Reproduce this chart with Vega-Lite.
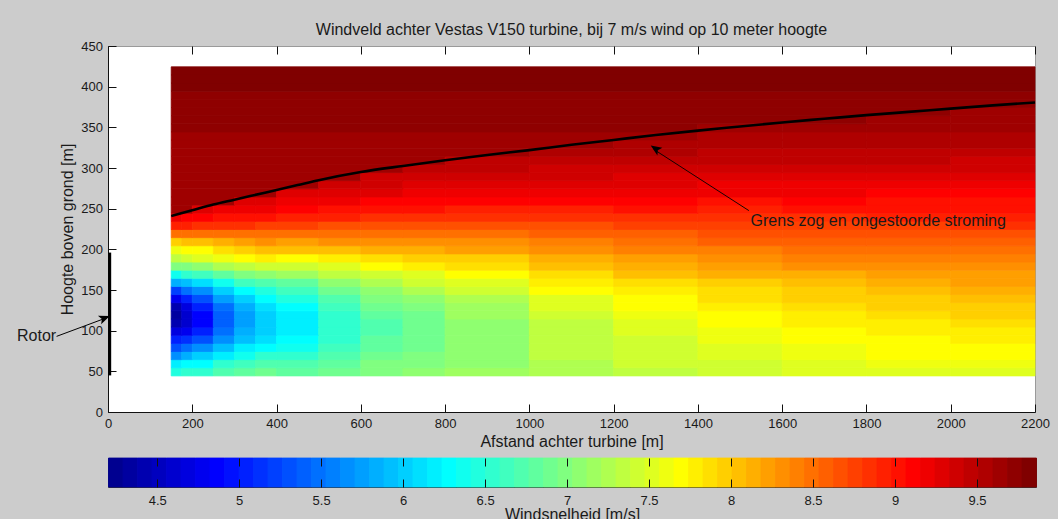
{
"$schema":"https://vega.github.io/schema/vega-lite/v6.json",
"background":"#cccccc",
"padding":{"left":16,"top":21,"right":10,"bottom":3},
"spacing":7,
"config":{"font":"Liberation Sans","view":{"stroke":null},
"axis":{"labelFont":"Liberation Sans","labelFontSize":13,"labelColor":"#1a1a1a","titleFont":"Liberation Sans","titleFontSize":16,"titleFontWeight":"normal","titleColor":"#1a1a1a","tickColor":"#111111","domainColor":"#111111","grid":false,"tickSize":8,"labelFlush":false,"labelOverlap":false,"zindex":1}},
"resolve":{"scale":{"color":"shared","stroke":"shared"}},
"vconcat":[
{"width":927,"height":366,
"title":{"text":"Windveld achter Vestas V150 turbine, bij 7 m/s wind op 10 meter hoogte","fontSize":16,"font":"Liberation Sans","fontWeight":"normal","color":"#1a1a1a","offset":2.5,"frame":"group","anchor":"middle"},
"view":{"fill":"white","stroke":"#9a9a9a"},
"resolve":{"axis":{"x":"independent","y":"independent"}},
"layer":[
{"data":{"values":[
{"x":150,"x2":175,"y":50,"v":6.45},{"x":175,"x2":200,"y":50,"v":6.5},{"x":200,"x2":250,"y":50,"v":6.55},{"x":250,"x2":300,"y":50,"v":6.76},{"x":300,"x2":350,"y":50,"v":6.84},{"x":350,"x2":400,"y":50,"v":6.86},{"x":400,"x2":500,"y":50,"v":6.81},{"x":500,"x2":600,"y":50,"v":6.92},{"x":600,"x2":700,"y":50,"v":7.0},{"x":700,"x2":800,"y":50,"v":7.05},{"x":800,"x2":1000,"y":50,"v":7.12},{"x":1000,"x2":1200,"y":50,"v":7.27},{"x":1200,"x2":1400,"y":50,"v":7.37},{"x":1400,"x2":1600,"y":50,"v":7.43},{"x":1600,"x2":1800,"y":50,"v":7.48},{"x":1800,"x2":2000,"y":50,"v":7.53},{"x":2000,"x2":2200,"y":50,"v":7.55},
{"x":150,"x2":175,"y":60,"v":6.2},{"x":175,"x2":200,"y":60,"v":6.25},{"x":200,"x2":250,"y":60,"v":6.3},{"x":250,"x2":300,"y":60,"v":6.5},{"x":300,"x2":350,"y":60,"v":6.63},{"x":350,"x2":400,"y":60,"v":6.68},{"x":400,"x2":500,"y":60,"v":6.68},{"x":500,"x2":600,"y":60,"v":6.83},{"x":600,"x2":700,"y":60,"v":6.95},{"x":700,"x2":800,"y":60,"v":7.02},{"x":800,"x2":1000,"y":60,"v":7.11},{"x":1000,"x2":1200,"y":60,"v":7.29},{"x":1200,"x2":1400,"y":60,"v":7.4},{"x":1400,"x2":1600,"y":60,"v":7.47},{"x":1600,"x2":1800,"y":60,"v":7.54},{"x":1800,"x2":2000,"y":60,"v":7.59},{"x":2000,"x2":2200,"y":60,"v":7.62},
{"x":150,"x2":175,"y":70,"v":5.68},{"x":175,"x2":200,"y":70,"v":5.8},{"x":200,"x2":250,"y":70,"v":6.01},{"x":250,"x2":300,"y":70,"v":6.22},{"x":300,"x2":350,"y":70,"v":6.4},{"x":350,"x2":400,"y":70,"v":6.5},{"x":400,"x2":500,"y":70,"v":6.54},{"x":500,"x2":600,"y":70,"v":6.74},{"x":600,"x2":700,"y":70,"v":6.89},{"x":700,"x2":800,"y":70,"v":6.98},{"x":800,"x2":1000,"y":70,"v":7.1},{"x":1000,"x2":1200,"y":70,"v":7.31},{"x":1200,"x2":1400,"y":70,"v":7.44},{"x":1400,"x2":1600,"y":70,"v":7.52},{"x":1600,"x2":1800,"y":70,"v":7.59},{"x":1800,"x2":2000,"y":70,"v":7.65},{"x":2000,"x2":2200,"y":70,"v":7.68},
{"x":150,"x2":175,"y":80,"v":5.3},{"x":175,"x2":200,"y":80,"v":5.49},{"x":200,"x2":250,"y":80,"v":5.64},{"x":250,"x2":300,"y":80,"v":5.93},{"x":300,"x2":350,"y":80,"v":6.16},{"x":350,"x2":400,"y":80,"v":6.3},{"x":400,"x2":500,"y":80,"v":6.39},{"x":500,"x2":600,"y":80,"v":6.64},{"x":600,"x2":700,"y":80,"v":6.82},{"x":700,"x2":800,"y":80,"v":6.93},{"x":800,"x2":1000,"y":80,"v":7.08},{"x":1000,"x2":1200,"y":80,"v":7.31},{"x":1200,"x2":1400,"y":80,"v":7.45},{"x":1400,"x2":1600,"y":80,"v":7.54},{"x":1600,"x2":1800,"y":80,"v":7.62},{"x":1800,"x2":2000,"y":80,"v":7.68},{"x":2000,"x2":2200,"y":80,"v":7.72},
{"x":150,"x2":175,"y":90,"v":5.02},{"x":175,"x2":200,"y":90,"v":5.1},{"x":200,"x2":250,"y":90,"v":5.31},{"x":250,"x2":300,"y":90,"v":5.68},{"x":300,"x2":350,"y":90,"v":5.95},{"x":350,"x2":400,"y":90,"v":6.14},{"x":400,"x2":500,"y":90,"v":6.27},{"x":500,"x2":600,"y":90,"v":6.57},{"x":600,"x2":700,"y":90,"v":6.77},{"x":700,"x2":800,"y":90,"v":6.9},{"x":800,"x2":1000,"y":90,"v":7.07},{"x":1000,"x2":1200,"y":90,"v":7.32},{"x":1200,"x2":1400,"y":90,"v":7.47},{"x":1400,"x2":1600,"y":90,"v":7.57},{"x":1600,"x2":1800,"y":90,"v":7.66},{"x":1800,"x2":2000,"y":90,"v":7.73},{"x":2000,"x2":2200,"y":90,"v":7.77},
{"x":150,"x2":175,"y":100,"v":4.68},{"x":175,"x2":200,"y":100,"v":4.8},{"x":200,"x2":250,"y":100,"v":5.05},{"x":250,"x2":300,"y":100,"v":5.49},{"x":300,"x2":350,"y":100,"v":5.81},{"x":350,"x2":400,"y":100,"v":6.02},{"x":400,"x2":500,"y":100,"v":6.2},{"x":500,"x2":600,"y":100,"v":6.52},{"x":600,"x2":700,"y":100,"v":6.75},{"x":700,"x2":800,"y":100,"v":6.89},{"x":800,"x2":1000,"y":100,"v":7.07},{"x":1000,"x2":1200,"y":100,"v":7.34},{"x":1200,"x2":1400,"y":100,"v":7.5},{"x":1400,"x2":1600,"y":100,"v":7.61},{"x":1600,"x2":1800,"y":100,"v":7.7},{"x":1800,"x2":2000,"y":100,"v":7.77},{"x":2000,"x2":2200,"y":100,"v":7.82},
{"x":150,"x2":175,"y":110,"v":4.42},{"x":175,"x2":200,"y":110,"v":4.61},{"x":200,"x2":250,"y":110,"v":4.9},{"x":250,"x2":300,"y":110,"v":5.39},{"x":300,"x2":350,"y":110,"v":5.73},{"x":350,"x2":400,"y":110,"v":5.97},{"x":400,"x2":500,"y":110,"v":6.16},{"x":500,"x2":600,"y":110,"v":6.5},{"x":600,"x2":700,"y":110,"v":6.75},{"x":700,"x2":800,"y":110,"v":6.9},{"x":800,"x2":1000,"y":110,"v":7.09},{"x":1000,"x2":1200,"y":110,"v":7.37},{"x":1200,"x2":1400,"y":110,"v":7.54},{"x":1400,"x2":1600,"y":110,"v":7.65},{"x":1600,"x2":1800,"y":110,"v":7.74},{"x":1800,"x2":2000,"y":110,"v":7.82},{"x":2000,"x2":2200,"y":110,"v":7.87},
{"x":150,"x2":175,"y":120,"v":4.3},{"x":175,"x2":200,"y":120,"v":4.59},{"x":200,"x2":250,"y":120,"v":4.89},{"x":250,"x2":300,"y":120,"v":5.39},{"x":300,"x2":350,"y":120,"v":5.74},{"x":350,"x2":400,"y":120,"v":5.99},{"x":400,"x2":500,"y":120,"v":6.19},{"x":500,"x2":600,"y":120,"v":6.54},{"x":600,"x2":700,"y":120,"v":6.79},{"x":700,"x2":800,"y":120,"v":6.94},{"x":800,"x2":1000,"y":120,"v":7.14},{"x":1000,"x2":1200,"y":120,"v":7.42},{"x":1200,"x2":1400,"y":120,"v":7.59},{"x":1400,"x2":1600,"y":120,"v":7.7},{"x":1600,"x2":1800,"y":120,"v":7.79},{"x":1800,"x2":2000,"y":120,"v":7.87},{"x":2000,"x2":2200,"y":120,"v":7.92},
{"x":150,"x2":175,"y":130,"v":4.42},{"x":175,"x2":200,"y":130,"v":4.72},{"x":200,"x2":250,"y":130,"v":5.01},{"x":250,"x2":300,"y":130,"v":5.5},{"x":300,"x2":350,"y":130,"v":5.84},{"x":350,"x2":400,"y":130,"v":6.08},{"x":400,"x2":500,"y":130,"v":6.27},{"x":500,"x2":600,"y":130,"v":6.61},{"x":600,"x2":700,"y":130,"v":6.86},{"x":700,"x2":800,"y":130,"v":7.01},{"x":800,"x2":1000,"y":130,"v":7.2},{"x":1000,"x2":1200,"y":130,"v":7.48},{"x":1200,"x2":1400,"y":130,"v":7.65},{"x":1400,"x2":1600,"y":130,"v":7.76},{"x":1600,"x2":1800,"y":130,"v":7.85},{"x":1800,"x2":2000,"y":130,"v":7.93},{"x":2000,"x2":2200,"y":130,"v":7.98},
{"x":150,"x2":175,"y":140,"v":4.78},{"x":175,"x2":200,"y":140,"v":5.02},{"x":200,"x2":250,"y":140,"v":5.27},{"x":250,"x2":300,"y":140,"v":5.71},{"x":300,"x2":350,"y":140,"v":6.03},{"x":350,"x2":400,"y":140,"v":6.24},{"x":400,"x2":500,"y":140,"v":6.42},{"x":500,"x2":600,"y":140,"v":6.74},{"x":600,"x2":700,"y":140,"v":6.97},{"x":700,"x2":800,"y":140,"v":7.11},{"x":800,"x2":1000,"y":140,"v":7.29},{"x":1000,"x2":1200,"y":140,"v":7.56},{"x":1200,"x2":1400,"y":140,"v":7.72},{"x":1400,"x2":1600,"y":140,"v":7.83},{"x":1600,"x2":1800,"y":140,"v":7.92},{"x":1800,"x2":2000,"y":140,"v":7.99},{"x":2000,"x2":2200,"y":140,"v":8.04},
{"x":150,"x2":175,"y":150,"v":5.26},{"x":175,"x2":200,"y":150,"v":5.44},{"x":200,"x2":250,"y":150,"v":5.65},{"x":250,"x2":300,"y":150,"v":6.02},{"x":300,"x2":350,"y":150,"v":6.3},{"x":350,"x2":400,"y":150,"v":6.48},{"x":400,"x2":500,"y":150,"v":6.61},{"x":500,"x2":600,"y":150,"v":6.91},{"x":600,"x2":700,"y":150,"v":7.11},{"x":700,"x2":800,"y":150,"v":7.24},{"x":800,"x2":1000,"y":150,"v":7.41},{"x":1000,"x2":1200,"y":150,"v":7.66},{"x":1200,"x2":1400,"y":150,"v":7.81},{"x":1400,"x2":1600,"y":150,"v":7.91},{"x":1600,"x2":1800,"y":150,"v":8.0},{"x":1800,"x2":2000,"y":150,"v":8.07},{"x":2000,"x2":2200,"y":150,"v":8.11},
{"x":150,"x2":175,"y":160,"v":5.8},{"x":175,"x2":200,"y":160,"v":5.95},{"x":200,"x2":250,"y":160,"v":6.1},{"x":250,"x2":300,"y":160,"v":6.39},{"x":300,"x2":350,"y":160,"v":6.62},{"x":350,"x2":400,"y":160,"v":6.76},{"x":400,"x2":500,"y":160,"v":6.85},{"x":500,"x2":600,"y":160,"v":7.1},{"x":600,"x2":700,"y":160,"v":7.28},{"x":700,"x2":800,"y":160,"v":7.39},{"x":800,"x2":1000,"y":160,"v":7.54},{"x":1000,"x2":1200,"y":160,"v":7.77},{"x":1200,"x2":1400,"y":160,"v":7.91},{"x":1400,"x2":1600,"y":160,"v":8.0},{"x":1600,"x2":1800,"y":160,"v":8.08},{"x":1800,"x2":2000,"y":160,"v":8.14},{"x":2000,"x2":2200,"y":160,"v":8.18},
{"x":150,"x2":175,"y":170,"v":6.4},{"x":175,"x2":200,"y":170,"v":6.5},{"x":200,"x2":250,"y":170,"v":6.59},{"x":250,"x2":300,"y":170,"v":6.8},{"x":300,"x2":350,"y":170,"v":6.98},{"x":350,"x2":400,"y":170,"v":7.08},{"x":400,"x2":500,"y":170,"v":7.12},{"x":500,"x2":600,"y":170,"v":7.32},{"x":600,"x2":700,"y":170,"v":7.47},{"x":700,"x2":800,"y":170,"v":7.56},{"x":800,"x2":1000,"y":170,"v":7.68},{"x":1000,"x2":1200,"y":170,"v":7.89},{"x":1200,"x2":1400,"y":170,"v":8.02},{"x":1400,"x2":1600,"y":170,"v":8.1},{"x":1600,"x2":1800,"y":170,"v":8.17},{"x":1800,"x2":2000,"y":170,"v":8.23},{"x":2000,"x2":2200,"y":170,"v":8.26},
{"x":150,"x2":175,"y":180,"v":6.95},{"x":175,"x2":200,"y":180,"v":7.02},{"x":200,"x2":250,"y":180,"v":7.08},{"x":250,"x2":300,"y":180,"v":7.23},{"x":300,"x2":350,"y":180,"v":7.36},{"x":350,"x2":400,"y":180,"v":7.41},{"x":400,"x2":500,"y":180,"v":7.41},{"x":500,"x2":600,"y":180,"v":7.56},{"x":600,"x2":700,"y":180,"v":7.68},{"x":700,"x2":800,"y":180,"v":7.75},{"x":800,"x2":1000,"y":180,"v":7.84},{"x":1000,"x2":1200,"y":180,"v":8.02},{"x":1200,"x2":1400,"y":180,"v":8.13},{"x":1400,"x2":1600,"y":180,"v":8.2},{"x":1600,"x2":1800,"y":180,"v":8.27},{"x":1800,"x2":2000,"y":180,"v":8.32},{"x":2000,"x2":2200,"y":180,"v":8.35},
{"x":150,"x2":175,"y":190,"v":7.38},{"x":175,"x2":200,"y":190,"v":7.42},{"x":200,"x2":250,"y":190,"v":7.48},{"x":250,"x2":300,"y":190,"v":7.59},{"x":300,"x2":350,"y":190,"v":7.7},{"x":350,"x2":400,"y":190,"v":7.74},{"x":400,"x2":500,"y":190,"v":7.72},{"x":500,"x2":600,"y":190,"v":7.8},{"x":600,"x2":700,"y":190,"v":7.88},{"x":700,"x2":800,"y":190,"v":7.93},{"x":800,"x2":1000,"y":190,"v":8.0},{"x":1000,"x2":1200,"y":190,"v":8.15},{"x":1200,"x2":1400,"y":190,"v":8.25},{"x":1400,"x2":1600,"y":190,"v":8.31},{"x":1600,"x2":1800,"y":190,"v":8.36},{"x":1800,"x2":2000,"y":190,"v":8.41},{"x":2000,"x2":2200,"y":190,"v":8.43},
{"x":150,"x2":175,"y":200,"v":7.62},{"x":175,"x2":200,"y":200,"v":7.66},{"x":200,"x2":250,"y":200,"v":7.72},{"x":250,"x2":300,"y":200,"v":7.85},{"x":300,"x2":350,"y":200,"v":7.98},{"x":350,"x2":400,"y":200,"v":8.02},{"x":400,"x2":500,"y":200,"v":8.01},{"x":500,"x2":600,"y":200,"v":8.06},{"x":600,"x2":700,"y":200,"v":8.1},{"x":700,"x2":800,"y":200,"v":8.13},{"x":800,"x2":1000,"y":200,"v":8.18},{"x":1000,"x2":1200,"y":200,"v":8.3},{"x":1200,"x2":1400,"y":200,"v":8.38},{"x":1400,"x2":1600,"y":200,"v":8.43},{"x":1600,"x2":1800,"y":200,"v":8.47},{"x":1800,"x2":2000,"y":200,"v":8.51},{"x":2000,"x2":2200,"y":200,"v":8.53},
{"x":150,"x2":175,"y":210,"v":7.98},{"x":175,"x2":200,"y":210,"v":8.02},{"x":200,"x2":250,"y":210,"v":8.08},{"x":250,"x2":300,"y":210,"v":8.17},{"x":300,"x2":350,"y":210,"v":8.25},{"x":350,"x2":400,"y":210,"v":8.28},{"x":400,"x2":500,"y":210,"v":8.26},{"x":500,"x2":600,"y":210,"v":8.29},{"x":600,"x2":700,"y":210,"v":8.31},{"x":700,"x2":800,"y":210,"v":8.32},{"x":800,"x2":1000,"y":210,"v":8.35},{"x":1000,"x2":1200,"y":210,"v":8.44},{"x":1200,"x2":1400,"y":210,"v":8.5},{"x":1400,"x2":1600,"y":210,"v":8.54},{"x":1600,"x2":1800,"y":210,"v":8.57},{"x":1800,"x2":2000,"y":210,"v":8.6},{"x":2000,"x2":2200,"y":210,"v":8.62},
{"x":150,"x2":175,"y":220,"v":8.5},{"x":175,"x2":200,"y":220,"v":8.52},{"x":200,"x2":250,"y":220,"v":8.5},{"x":250,"x2":300,"y":220,"v":8.5},{"x":300,"x2":350,"y":220,"v":8.52},{"x":350,"x2":400,"y":220,"v":8.52},{"x":400,"x2":500,"y":220,"v":8.5},{"x":500,"x2":600,"y":220,"v":8.51},{"x":600,"x2":700,"y":220,"v":8.51},{"x":700,"x2":800,"y":220,"v":8.51},{"x":800,"x2":1000,"y":220,"v":8.51},{"x":1000,"x2":1200,"y":220,"v":8.58},{"x":1200,"x2":1400,"y":220,"v":8.62},{"x":1400,"x2":1600,"y":220,"v":8.65},{"x":1600,"x2":1800,"y":220,"v":8.68},{"x":1800,"x2":2000,"y":220,"v":8.7},{"x":2000,"x2":2200,"y":220,"v":8.71},
{"x":150,"x2":175,"y":230,"v":8.93},{"x":175,"x2":200,"y":230,"v":8.93},{"x":200,"x2":250,"y":230,"v":8.88},{"x":250,"x2":300,"y":230,"v":8.82},{"x":300,"x2":350,"y":230,"v":8.8},{"x":350,"x2":400,"y":230,"v":8.77},{"x":400,"x2":500,"y":230,"v":8.72},{"x":500,"x2":600,"y":230,"v":8.71},{"x":600,"x2":700,"y":230,"v":8.69},{"x":700,"x2":800,"y":230,"v":8.68},{"x":800,"x2":1000,"y":230,"v":8.67},{"x":1000,"x2":1200,"y":230,"v":8.71},{"x":1200,"x2":1400,"y":230,"v":8.75},{"x":1400,"x2":1600,"y":230,"v":8.76},{"x":1600,"x2":1800,"y":230,"v":8.78},{"x":1800,"x2":2000,"y":230,"v":8.79},{"x":2000,"x2":2200,"y":230,"v":8.8},
{"x":150,"x2":175,"y":240,"v":9.17},{"x":175,"x2":200,"y":240,"v":9.15},{"x":200,"x2":250,"y":240,"v":9.1},{"x":250,"x2":300,"y":240,"v":9.05},{"x":300,"x2":350,"y":240,"v":9.02},{"x":350,"x2":400,"y":240,"v":8.98},{"x":400,"x2":500,"y":240,"v":8.92},{"x":500,"x2":600,"y":240,"v":8.89},{"x":600,"x2":700,"y":240,"v":8.86},{"x":700,"x2":800,"y":240,"v":8.84},{"x":800,"x2":1000,"y":240,"v":8.82},{"x":1000,"x2":1200,"y":240,"v":8.84},{"x":1200,"x2":1400,"y":240,"v":8.86},{"x":1400,"x2":1600,"y":240,"v":8.87},{"x":1600,"x2":1800,"y":240,"v":8.88},{"x":1800,"x2":2000,"y":240,"v":8.89},{"x":2000,"x2":2200,"y":240,"v":8.89},
{"x":150,"x2":200,"y":250,"v":9.6},{"x":200,"x2":250,"y":250,"v":9.28},{"x":250,"x2":300,"y":250,"v":9.22},{"x":300,"x2":350,"y":250,"v":9.2},{"x":350,"x2":400,"y":250,"v":9.16},{"x":400,"x2":500,"y":250,"v":9.08},{"x":500,"x2":600,"y":250,"v":9.04},{"x":600,"x2":700,"y":250,"v":9.01},{"x":700,"x2":800,"y":250,"v":8.99},{"x":800,"x2":1000,"y":250,"v":8.95},{"x":1000,"x2":1200,"y":250,"v":8.97},{"x":1200,"x2":1400,"y":250,"v":8.98},{"x":1400,"x2":1600,"y":250,"v":8.97},{"x":1600,"x2":1800,"y":250,"v":8.98},{"x":1800,"x2":2000,"y":250,"v":8.98},{"x":2000,"x2":2200,"y":250,"v":8.98},
{"x":150,"x2":300,"y":260,"v":9.6},{"x":300,"x2":350,"y":260,"v":9.31},{"x":350,"x2":400,"y":260,"v":9.27},{"x":400,"x2":500,"y":260,"v":9.21},{"x":500,"x2":600,"y":260,"v":9.17},{"x":600,"x2":700,"y":260,"v":9.13},{"x":700,"x2":800,"y":260,"v":9.11},{"x":800,"x2":1000,"y":260,"v":9.07},{"x":1000,"x2":1200,"y":260,"v":9.07},{"x":1200,"x2":1400,"y":260,"v":9.07},{"x":1400,"x2":1600,"y":260,"v":9.06},{"x":1600,"x2":1800,"y":260,"v":9.07},{"x":1800,"x2":2000,"y":260,"v":9.06},{"x":2000,"x2":2200,"y":260,"v":9.06},
{"x":150,"x2":400,"y":270,"v":9.6},{"x":400,"x2":500,"y":270,"v":9.32},{"x":500,"x2":600,"y":270,"v":9.28},{"x":600,"x2":700,"y":270,"v":9.25},{"x":700,"x2":800,"y":270,"v":9.22},{"x":800,"x2":1000,"y":270,"v":9.18},{"x":1000,"x2":1200,"y":270,"v":9.18},{"x":1200,"x2":1400,"y":270,"v":9.17},{"x":1400,"x2":1600,"y":270,"v":9.16},{"x":1600,"x2":1800,"y":270,"v":9.16},{"x":1800,"x2":2000,"y":270,"v":9.15},{"x":2000,"x2":2200,"y":270,"v":9.14},
{"x":150,"x2":500,"y":280,"v":9.6},{"x":500,"x2":600,"y":280,"v":9.37},{"x":600,"x2":700,"y":280,"v":9.34},{"x":700,"x2":800,"y":280,"v":9.31},{"x":800,"x2":1000,"y":280,"v":9.27},{"x":1000,"x2":1200,"y":280,"v":9.26},{"x":1200,"x2":1400,"y":280,"v":9.25},{"x":1400,"x2":1600,"y":280,"v":9.24},{"x":1600,"x2":1800,"y":280,"v":9.23},{"x":1800,"x2":2000,"y":280,"v":9.22},{"x":2000,"x2":2200,"y":280,"v":9.22},
{"x":150,"x2":600,"y":290,"v":9.61},{"x":600,"x2":700,"y":290,"v":9.41},{"x":700,"x2":800,"y":290,"v":9.39},{"x":800,"x2":1000,"y":290,"v":9.35},{"x":1000,"x2":1200,"y":290,"v":9.34},{"x":1200,"x2":1400,"y":290,"v":9.32},{"x":1400,"x2":1600,"y":290,"v":9.31},{"x":1600,"x2":1800,"y":290,"v":9.3},{"x":1800,"x2":2000,"y":290,"v":9.29},{"x":2000,"x2":2200,"y":290,"v":9.28},
{"x":150,"x2":700,"y":300,"v":9.62},{"x":700,"x2":800,"y":300,"v":9.47},{"x":800,"x2":1000,"y":300,"v":9.43},{"x":1000,"x2":1200,"y":300,"v":9.41},{"x":1200,"x2":1400,"y":300,"v":9.4},{"x":1400,"x2":1600,"y":300,"v":9.385},{"x":1600,"x2":1800,"y":300,"v":9.375},{"x":1800,"x2":2000,"y":300,"v":9.355},{"x":2000,"x2":2200,"y":300,"v":9.345},
{"x":150,"x2":800,"y":310,"v":9.63},{"x":800,"x2":1000,"y":310,"v":9.49},{"x":1000,"x2":1200,"y":310,"v":9.48},{"x":1200,"x2":1400,"y":310,"v":9.46},{"x":1400,"x2":1600,"y":310,"v":9.45},{"x":1600,"x2":1800,"y":310,"v":9.44},{"x":1800,"x2":2000,"y":310,"v":9.42},{"x":2000,"x2":2200,"y":310,"v":9.41},
{"x":150,"x2":1000,"y":320,"v":9.64},{"x":1000,"x2":1200,"y":320,"v":9.53},{"x":1200,"x2":1400,"y":320,"v":9.52},{"x":1400,"x2":1600,"y":320,"v":9.5},{"x":1600,"x2":1800,"y":320,"v":9.49},{"x":1800,"x2":2000,"y":320,"v":9.48},{"x":2000,"x2":2200,"y":320,"v":9.47},
{"x":150,"x2":1200,"y":330,"v":9.66},{"x":1200,"x2":1400,"y":330,"v":9.56},{"x":1400,"x2":1600,"y":330,"v":9.55},{"x":1600,"x2":1800,"y":330,"v":9.54},{"x":1800,"x2":2000,"y":330,"v":9.53},{"x":2000,"x2":2200,"y":330,"v":9.52},
{"x":150,"x2":1400,"y":340,"v":9.68},{"x":1400,"x2":1600,"y":340,"v":9.59},{"x":1600,"x2":1800,"y":340,"v":9.58},{"x":1800,"x2":2000,"y":340,"v":9.57},{"x":2000,"x2":2200,"y":340,"v":9.56},
{"x":150,"x2":1400,"y":350,"v":9.7},{"x":1400,"x2":1600,"y":350,"v":9.63},{"x":1600,"x2":1800,"y":350,"v":9.62},{"x":1800,"x2":2000,"y":350,"v":9.61},{"x":2000,"x2":2200,"y":350,"v":9.6},
{"x":150,"x2":1800,"y":360,"v":9.715},{"x":1800,"x2":2000,"y":360,"v":9.645},{"x":2000,"x2":2200,"y":360,"v":9.635},
{"x":150,"x2":2000,"y":370,"v":9.73},{"x":2000,"x2":2200,"y":370,"v":9.67},
{"x":150,"x2":2200,"y":380,"v":9.75},
{"x":150,"x2":2200,"y":390,"v":9.77},
{"x":150,"x2":2200,"y":400,"v":9.785},
{"x":150,"x2":2200,"y":410,"v":9.8},
{"x":150,"x2":2200,"y":420,"v":9.82}
]},
"mark":{"type":"rect","binSpacing":0,"strokeWidth":0.8},
"encoding":{
"x":{"field":"x","type":"quantitative","scale":{"domain":[0,2200],"nice":false,"zero":false},"axis":{"orient":"bottom","values":[0,200,400,600,800,1000,1200,1400,1600,1800,2000,2200],"format":"d","title":"Afstand achter turbine [m]","titlePadding":3,"offset":-8,"labelPadding":5,"domain":false}},
"x2":{"field":"x2"},
"y":{"field":"y","type":"quantitative","bin":{"anchor":45,"step":10,"extent":[45,425],"nice":false},"scale":{"domain":[0,450],"nice":false,"zero":false},"axis":{"orient":"left","values":[0,50,100,150,200,250,300,350,400,450],"format":"d","title":"Hoogte boven grond [m]","titlePadding":5,"offset":-8,"labelPadding":5.5,"domain":false}},
"color":{"field":"v","type":"quantitative","scale":{"type":"quantize","domain":[4.2,9.86],"range":["#000090","#0000a0","#0000b0","#0000bf","#0000cf","#0000df","#0000ef","#0000ff","#0010ff","#0020ff","#0030ff","#0040ff","#0050ff","#0060ff","#0070ff","#0080ff","#008fff","#009fff","#00afff","#00bfff","#00cfff","#00dfff","#00efff","#00ffff","#10ffef","#20ffdf","#30ffcf","#40ffbf","#50ffaf","#60ff9f","#70ff8f","#80ff80","#8fff70","#9fff60","#afff50","#bfff40","#cfff30","#dfff20","#efff10","#ffff00","#ffef00","#ffdf00","#ffcf00","#ffbf00","#ffaf00","#ff9f00","#ff8f00","#ff8000","#ff7000","#ff6000","#ff5000","#ff4000","#ff3000","#ff2000","#ff1000","#ff0000","#ef0000","#df0000","#cf0000","#bf0000","#af0000","#9f0000","#8f0000","#800000"]},"legend":null},
"stroke":{"field":"v","type":"quantitative","scale":{"type":"quantize","domain":[4.2,9.86],"range":["#000090","#0000a0","#0000b0","#0000bf","#0000cf","#0000df","#0000ef","#0000ff","#0010ff","#0020ff","#0030ff","#0040ff","#0050ff","#0060ff","#0070ff","#0080ff","#008fff","#009fff","#00afff","#00bfff","#00cfff","#00dfff","#00efff","#00ffff","#10ffef","#20ffdf","#30ffcf","#40ffbf","#50ffaf","#60ff9f","#70ff8f","#80ff80","#8fff70","#9fff60","#afff50","#bfff40","#cfff30","#dfff20","#efff10","#ffff00","#ffef00","#ffdf00","#ffcf00","#ffbf00","#ffaf00","#ff9f00","#ff8f00","#ff8000","#ff7000","#ff6000","#ff5000","#ff4000","#ff3000","#ff2000","#ff1000","#ff0000","#ef0000","#df0000","#cf0000","#bf0000","#af0000","#9f0000","#8f0000","#800000"]},"legend":null}
}},
{"data":{"values":[{"x":150,"y":241},{"x":200,"y":248},{"x":250,"y":255},{"x":300,"y":261},{"x":375,"y":270},{"x":450,"y":279},{"x":500,"y":285},{"x":600,"y":295},{"x":700,"y":302.5},{"x":800,"y":309.5},{"x":900,"y":316},{"x":1000,"y":322},{"x":1100,"y":328.5},{"x":1200,"y":334.5},{"x":1300,"y":340.5},{"x":1400,"y":346},{"x":1500,"y":351},{"x":1600,"y":356},{"x":1700,"y":360.5},{"x":1800,"y":365},{"x":1900,"y":369},{"x":2000,"y":373},{"x":2100,"y":377},{"x":2200,"y":380.5}]},
"mark":{"type":"line","color":"black","strokeWidth":2.6,"interpolate":"monotone"},
"encoding":{
"x":{"field":"x","type":"quantitative","axis":{"orient":"top","labels":false,"title":null,"domain":false,"offset":-8,"values":[0,200,400,600,800,1000,1200,1400,1600,1800,2000,2200]}},
"y":{"field":"y","type":"quantitative","axis":null}
}},
{"data":{"values":[{}]},
"mark":{"type":"rule","color":"black","strokeWidth":3},
"encoding":{"x":{"datum":4,"type":"quantitative","axis":{"orient":"bottom","ticks":false,"labels":false,"title":null,"domain":true}},"y":{"datum":45,"type":"quantitative","axis":{"orient":"left","ticks":false,"labels":false,"title":null,"domain":true}},"y2":{"datum":196}}},
{"data":{"values":[{}]},
"mark":{"type":"rule","color":"black","strokeWidth":1},
"encoding":{"x":{"datum":-122,"type":"quantitative","axis":null},"y":{"datum":93,"type":"quantitative","axis":null},"x2":{"datum":0},"y2":{"datum":116.5}}},
{"data":{"values":[{}]},
"mark":{"type":"point","shape":"M0,0L-0.45,1.1L0,0.85L0.45,1.1Z","filled":true,"opacity":1,"color":"black","size":400,"angle":69,"strokeWidth":0},
"encoding":{"x":{"datum":4.3,"type":"quantitative","axis":null},"y":{"datum":118,"type":"quantitative","axis":null}}},
{"data":{"values":[{}]},
"mark":{"type":"text","text":"Rotor","align":"left","baseline":"middle","fontSize":16,"font":"Liberation Sans","color":"#1a1a1a"},
"encoding":{"x":{"datum":-216,"type":"quantitative","axis":null},"y":{"datum":93,"type":"quantitative","axis":null}}},
{"data":{"values":[{}]},
"mark":{"type":"rule","color":"black","strokeWidth":0.9},
"encoding":{"x":{"datum":1521,"type":"quantitative","axis":null},"y":{"datum":247.6,"type":"quantitative","axis":null},"x2":{"datum":1295},"y2":{"datum":323}}},
{"data":{"values":[{}]},
"mark":{"type":"point","shape":"M0,0L-0.45,1.1L0,0.85L0.45,1.1Z","filled":true,"opacity":1,"color":"black","size":400,"angle":303.5,"strokeWidth":0},
"encoding":{"x":{"datum":1288,"type":"quantitative","axis":null},"y":{"datum":327.6,"type":"quantitative","axis":null}}},
{"data":{"values":[{}]},
"mark":{"type":"text","text":"Grens zog en ongestoorde stroming","align":"left","baseline":"middle","fontSize":16,"font":"Liberation Sans","color":"#1a1a1a"},
"encoding":{"x":{"datum":1525,"type":"quantitative","axis":null},"y":{"datum":235,"type":"quantitative","axis":null}}}
]},
{"width":928,"height":29,
"view":{"stroke":"#333333"},
"resolve":{"axis":{"x":"independent"}},
"data":{"values":[{"m":4.2442},{"m":4.3327},{"m":4.4211},{"m":4.5095},{"m":4.598},{"m":4.6864},{"m":4.7748},{"m":4.8633},{"m":4.9517},{"m":5.0402},{"m":5.1286},{"m":5.217},{"m":5.3055},{"m":5.3939},{"m":5.4823},{"m":5.5708},{"m":5.6592},{"m":5.7477},{"m":5.8361},{"m":5.9245},{"m":6.013},{"m":6.1014},{"m":6.1898},{"m":6.2783},{"m":6.3667},{"m":6.4552},{"m":6.5436},{"m":6.632},{"m":6.7205},{"m":6.8089},{"m":6.8973},{"m":6.9858},{"m":7.0742},{"m":7.1627},{"m":7.2511},{"m":7.3395},{"m":7.428},{"m":7.5164},{"m":7.6048},{"m":7.6933},{"m":7.7817},{"m":7.8702},{"m":7.9586},{"m":8.047},{"m":8.1355},{"m":8.2239},{"m":8.3123},{"m":8.4008},{"m":8.4892},{"m":8.5777},{"m":8.6661},{"m":8.7545},{"m":8.843},{"m":8.9314},{"m":9.0198},{"m":9.1083},{"m":9.1967},{"m":9.2852},{"m":9.3736},{"m":9.462},{"m":9.5505},{"m":9.6389},{"m":9.7273},{"m":9.8158}]},
"layer":[
{"mark":{"type":"rect","binSpacing":0,"strokeWidth":0.8},
"encoding":{
"x":{"field":"m","type":"quantitative","bin":{"anchor":4.2,"step":0.0884375,"extent":[4.2,9.86],"nice":false},"scale":{"domain":[4.2,9.86],"nice":false,"zero":false},"axis":{"orient":"bottom","values":[4.5,5,5.5,6,6.5,7,7.5,8,8.5,9,9.5],"format":"~g","title":"Windsnelheid [m/s]","offset":-8,"labelPadding":7,"titlePadding":-1,"domain":false,"zindex":2}},
"y":{"datum":0,"type":"quantitative","scale":{"domain":[0,1],"nice":false,"zero":false},"axis":null},
"y2":{"datum":1},
"color":{"field":"m","type":"quantitative","scale":{"type":"quantize","domain":[4.2,9.86]},"legend":null},
"stroke":{"field":"m","type":"quantitative","scale":{"type":"quantize","domain":[4.2,9.86]},"legend":null}
}},
{"mark":{"type":"rect","opacity":0},
"encoding":{
"x":{"field":"m","type":"quantitative","bin":{"anchor":4.2,"step":0.0884375,"extent":[4.2,9.86],"nice":false},"axis":{"orient":"top","labels":false,"title":null,"domain":false,"offset":-8,"values":[4.5,5,5.5,6,6.5,7,7.5,8,8.5,9,9.5],"zindex":2}},
"y":{"datum":0,"type":"quantitative","axis":null},
"y2":{"datum":1}
}}
]}
]}
